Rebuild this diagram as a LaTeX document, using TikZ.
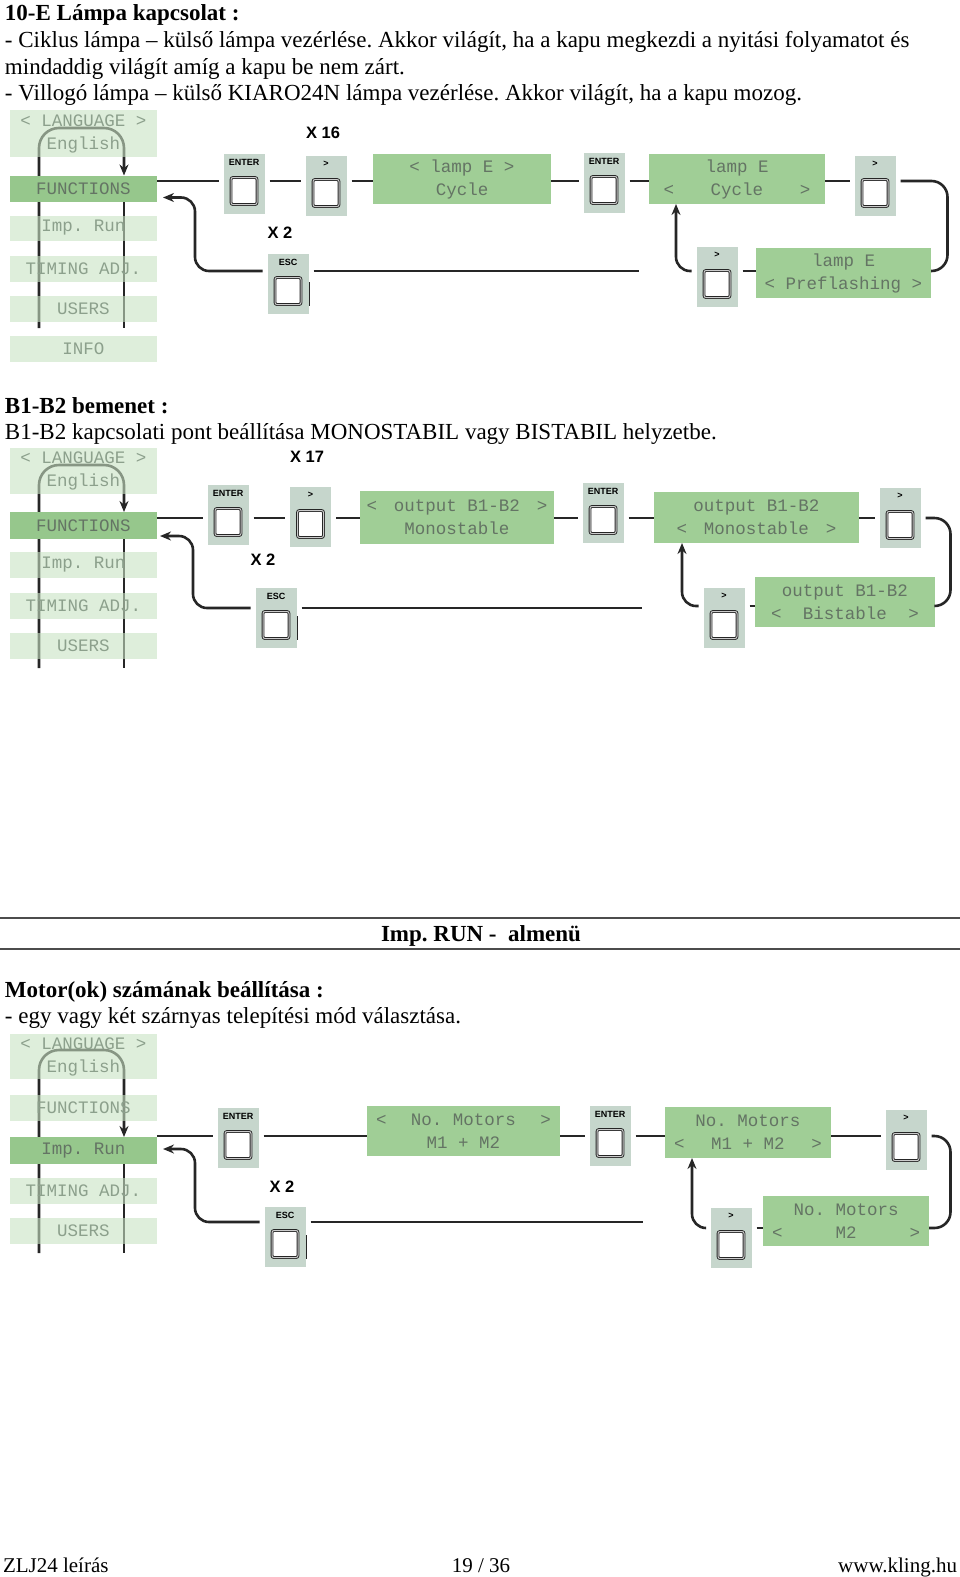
\documentclass[tikz,border=0pt]{standalone}
\usepackage{fontspec}
\setmainfont{Liberation Serif}
\newfontfamily\lcdfamily{Liberation Mono}
\newfontfamily\keyfamily{Liberation Sans}
\usepackage{tikz}
\usetikzlibrary{arrows.meta}
\definecolor{lcdgreen}{RGB}{160,206,150}
\definecolor{selgreen}{RGB}{150,199,140}
\definecolor{fadegreen}{RGB}{200,226,195}
\definecolor{keygrey}{RGB}{198,214,204}
\definecolor{lcdink}{RGB}{100,116,100}
\definecolor{fadeink}{RGB}{140,160,140}
\definecolor{wireink}{RGB}{38,38,38}
\pgfdeclarelayer{background}
\pgfsetlayers{background,main}
\frenchspacing
\newcommand{\lcdfont}{\lcdfamily\fontsize{17.5}{23}\selectfont}
\newcommand{\keyfont}{\keyfamily\bfseries\fontsize{9}{10}\selectfont}
\newcommand{\multfont}{\keyfamily\bfseries\fontsize{16.5}{18}\selectfont}
\newcommand{\bodyfont}{\fontsize{23}{27}\selectfont}
\newcommand{\footfont}{\fontsize{21}{25}\selectfont}
\newcommand{\lcdpick}[2]{\makebox[#1]{<\hfill#2\hfill>}}
\newcommand{\keypad}[3]{%
    \node[btn] (#1) at (#2) {};
    \node[keylabel] (#1-label) at ([yshift=22pt]#1.center) {#3};
    \node[keycap] (#1-cap) at ([yshift=-7pt]#1.center) {};
}
\tikzset{
    common/.style={rectangle, inner sep=0pt, outer sep=0pt},
    menu/.style={common, fill=fadegreen, fill opacity=0.6, text opacity=1, text=fadeink, font=\lcdfont, align=center, minimum width=147pt, minimum height=26pt},
    menusel/.style={menu, fill=selgreen, fill opacity=1, text=lcdink},
    lcd/.style={common, fill=lcdgreen, text=lcdink, font=\lcdfont, align=center, minimum height=50pt},
    btn/.style={common, fill=keygrey, minimum width=41pt, minimum height=60pt, outer sep=5pt},
    keycap/.style={common, draw=wireink, double=gray!40, double distance=1pt, line width=0.9pt, fill=white, rounded corners=2pt, minimum width=26pt, minimum height=27pt},
    keylabel/.style={common, font=\keyfont},
    mult/.style={common, font=\multfont},
    wire/.style={draw=wireink, line width=2.6pt},
    flow/.style={wire, -{Stealth[length=11pt,width=9pt]}},
    tick/.style={draw=wireink, line width=1.2pt},
    hrule/.style={draw=black!70, line width=1.4pt},
    txt/.style={common, anchor=base west, font=\bodyfont},
    heading/.style={txt, font=\bodyfont\bfseries},
    foot/.style={txt, font=\footfont}
}
\begin{document}
\begin{tikzpicture}[x=1pt,y=-1pt]
    \useasboundingbox (0,0) rectangle (960,1577);

    \node[heading] (headA) at (5,20.5) {10-E Lámpa kapcsolat :};
    \node[txt] (textA1) at (5,47.5) {- Ciklus lámpa – külső lámpa vezérlése. Akkor világít, ha a kapu megkezdi a nyitási folyamatot és};
    \node[txt] (textA2) at (5,74) {mindaddig világít amíg a kapu be nem zárt.};
    \node[txt] (textA3) at (5,100.5) {- Villogó lámpa – külső KIARO24N lámpa vezérlése. Akkor világít, ha a kapu mozog.};

    \node[menu, minimum height=47pt] (langA) at (83.5,133.5) {< LANGUAGE >\\English};
    \node[menusel] (fnA) at (83.5,188.5) {FUNCTIONS};
    \node[menu, minimum height=25pt] (impA) at (83.5,228) {Imp. Run};
    \node[menu] (timA) at (83.5,268.5) {TIMING ADJ.};
    \node[menu] (usrA) at (83.5,308.5) {USERS};
    \node[menu] (infA) at (83.5,348.5) {INFO};
    \coordinate (footA1) at (39,328);
    \coordinate (footA2) at (124,328);
    \coordinate (topA) at (0,128);

    \node[mult] (multA1) at (323,133) {X 16};
    \node[mult] (multA2) at (280,233) {X 2};
    \keypad{enterA1}{244,184}{ENTER}
    \keypad{gtA1}{326,186}{>}
    \keypad{escA}{288,284}{ESC}
    \keypad{enterA2}{604,183}{ENTER}
    \keypad{gtA3}{875,186}{>}
    \keypad{gtA4}{717,277}{>}
    \node[lcd, minimum width=178pt] (lcdA1) at (462,179) {< lamp E >\\Cycle};
    \node[lcd, minimum width=176pt] (lcdA2) at (737,179) {lamp E\\\lcdpick{147pt}{Cycle}};
    \node[lcd, minimum width=175pt] (lcdA3) at (843.5,273) {lamp E\\< Preflashing >};
    \coordinate (rowA) at (0,181);
    \coordinate (lowA) at (0,271);
    \coordinate (stopA) at (639,271);

    \begin{pgfonlayer}{background}
        \draw[flow, rounded corners=20pt] (footA1) -- (footA1 |- topA) -- (footA2 |- topA) -- (fnA.north -| footA2);
        \draw[wire] (fnA.south -| footA2) -- (footA2);
    \end{pgfonlayer}
    \draw[wire] (fnA.east |- rowA) -- (enterA1.west |- rowA)
        (enterA1.east |- rowA) -- (gtA1.west |- rowA)
        (gtA1.east |- rowA) -- (lcdA1.west |- rowA)
        (lcdA1.east |- rowA) -- (enterA2.west |- rowA)
        (enterA2.east |- rowA) -- (lcdA2.west |- rowA)
        (lcdA2.east |- rowA) -- (gtA3.west |- rowA);
    \draw[wire, rounded corners=16pt] (gtA3.east |- rowA) -- ++(47,0) |- (lcdA3.east |- lowA);
    \draw[wire] (gtA4.east |- lowA) -- (lcdA3.west |- lowA);
    \draw[flow, rounded corners=14pt] (gtA4.west |- lowA) -| ([xshift=27pt]lcdA2.south west);
    \draw[wire] (escA.east |- stopA) -- (stopA);
    \draw[flow, rounded corners=14pt] (escA.west |- stopA) -| ([shift={(38pt,4pt)}]fnA.south east) -- ([shift={(6pt,4pt)}]fnA.south east);
    \draw[tick] ([shift={(-4pt,2pt)}]escA.east) -- ([shift={(-4pt,-22pt)}]escA.east);

    \node[heading] (headB) at (5,413) {B1-B2 bemenet :};
    \node[txt] (textB1) at (5,439) {B1-B2 kapcsolati pont beállítása MONOSTABIL vagy BISTABIL helyzetbe.};

    \node[menu, minimum height=46pt] (langB) at (83.5,471) {< LANGUAGE >\\English};
    \node[menusel, minimum height=27pt] (fnB) at (83.5,525.5) {FUNCTIONS};
    \node[menu] (impB) at (83.5,565) {Imp. Run};
    \node[menu] (timB) at (83.5,606) {TIMING ADJ.};
    \node[menu] (usrB) at (83.5,646) {USERS};
    \coordinate (footB1) at (39,668);
    \coordinate (footB2) at (124,668);
    \coordinate (topB) at (0,465);

    \node[mult] (multB1) at (307,457) {X 17};
    \node[mult] (multB2) at (263,560) {X 2};
    \keypad{enterB1}{228,515}{ENTER}
    \keypad{gtB1}{310.5,517}{>}
    \keypad{escB}{276,618}{ESC}
    \keypad{enterB2}{603,513}{ENTER}
    \keypad{gtB3}{900,518}{>}
    \keypad{gtB4}{724,618}{>}
    \node[lcd, minimum width=194pt, minimum height=53pt] (lcdB1) at (457,517.5) {\lcdpick{181pt}{output B1-B2}\\Monostable};
    \node[lcd, minimum width=205pt, minimum height=51pt] (lcdB2) at (756.5,517.5) {output B1-B2\\\lcdpick{160pt}{Monostable}};
    \node[lcd, minimum width=180pt] (lcdB3) at (845,602) {output B1-B2\\\lcdpick{148pt}{Bistable}};
    \coordinate (rowB) at (0,518);
    \coordinate (lowB) at (0,606);
    \coordinate (stopB) at (642,608);

    \begin{pgfonlayer}{background}
        \draw[flow, rounded corners=20pt] (footB1) -- (footB1 |- topB) -- (footB2 |- topB) -- (fnB.north -| footB2);
        \draw[wire] (fnB.south -| footB2) -- (footB2);
    \end{pgfonlayer}
    \draw[wire] (fnB.east |- rowB) -- (enterB1.west |- rowB)
        (enterB1.east |- rowB) -- (gtB1.west |- rowB)
        (gtB1.east |- rowB) -- (lcdB1.west |- rowB)
        (lcdB1.east |- rowB) -- (enterB2.west |- rowB)
        (enterB2.east |- rowB) -- (lcdB2.west |- rowB)
        (lcdB2.east |- rowB) -- (gtB3.west |- rowB);
    \draw[wire, rounded corners=16pt] (gtB3.east |- rowB) -- ++(25,0) |- (lcdB3.east |- lowB);
    \draw[wire] (gtB4.east |- lowB) -- (lcdB3.west |- lowB);
    \draw[flow, rounded corners=14pt] (gtB4.west |- lowB) -| ([xshift=28pt]lcdB2.south west);
    \draw[wire] (escB.east |- stopB) -- (stopB);
    \draw[flow, rounded corners=14pt] (escB.west |- stopB) -| ([shift={(36pt,3pt)}]fnB.south east) -- ([shift={(3pt,3pt)}]fnB.south east);
    \draw[tick] ([shift={(-4pt,2pt)}]escB.east) -- ([shift={(-4pt,-22pt)}]escB.east);

    \draw[hrule] (0,918) -- (960,918);
    \draw[hrule] (0,949) -- (960,949);
    \node[heading, anchor=base] (headC0) at (481,941) {Imp. RUN -\ \ almenü};
    \node[heading] (headC) at (5,997) {Motor(ok) számának beállítása :};
    \node[txt] (textC1) at (5,1023) {- egy vagy két szárnyas telepítési mód választása.};

    \node[menu, minimum height=45pt] (langC) at (83.5,1056.5) {< LANGUAGE >\\English};
    \node[menu] (fnC) at (83.5,1108) {FUNCTIONS};
    \node[menusel, minimum height=27pt] (impC) at (83.5,1150.5) {Imp. Run};
    \node[menu] (timC) at (83.5,1190.5) {TIMING ADJ.};
    \node[menu] (usrC) at (83.5,1231) {USERS};
    \coordinate (footC1) at (39,1253);
    \coordinate (footC2) at (124,1253);
    \coordinate (topC) at (0,1050);

    \node[mult] (multC2) at (282,1187) {X 2};
    \keypad{enterC1}{238,1138}{ENTER}
    \keypad{escC}{285,1237}{ESC}
    \keypad{enterC2}{610,1136}{ENTER}
    \keypad{gtC3}{906,1140}{>}
    \keypad{gtC4}{731,1238}{>}
    \node[lcd, minimum width=193pt] (lcdC1) at (463.5,1131) {\lcdpick{175pt}{No. Motors}\\M1 + M2};
    \node[lcd, minimum width=166pt, minimum height=51pt] (lcdC2) at (748,1132.5) {No. Motors\\\lcdpick{148pt}{M1 + M2}};
    \node[lcd, minimum width=166pt] (lcdC3) at (846,1221) {No. Motors\\\lcdpick{148pt}{M2}};
    \coordinate (rowC) at (0,1136);
    \coordinate (lowC) at (0,1228);
    \coordinate (stopC) at (643,1222);

    \begin{pgfonlayer}{background}
        \draw[flow, rounded corners=20pt] (footC1) -- (footC1 |- topC) -- (footC2 |- topC) -- (impC.north -| footC2);
        \draw[wire] (impC.south -| footC2) -- (footC2);
    \end{pgfonlayer}
    \draw[wire] (impC.east |- rowC) -- (enterC1.west |- rowC)
        (enterC1.east |- rowC) -- (lcdC1.west |- rowC)
        (lcdC1.east |- rowC) -- (enterC2.west |- rowC)
        (enterC2.east |- rowC) -- (lcdC2.west |- rowC)
        (lcdC2.east |- rowC) -- (gtC3.west |- rowC);
    \draw[wire, rounded corners=16pt] (gtC3.east |- rowC) -- ++(19,0) |- (lcdC3.east |- lowC);
    \draw[wire] (gtC4.east |- lowC) -- (lcdC3.west |- lowC);
    \draw[flow, rounded corners=14pt] (gtC4.west |- lowC) -| ([xshift=27pt]lcdC2.south west);
    \draw[wire] (escC.east |- stopC) -- (stopC);
    \draw[flow, rounded corners=14pt] (escC.west |- stopC) -| ([shift={(38pt,15pt)}]impC.south east) -- ([shift={(6pt,15pt)}]impC.south east);
    \draw[tick] ([shift={(-4pt,2pt)}]escC.east) -- ([shift={(-4pt,-22pt)}]escC.east);

    \node[foot] (footL) at (3,1572) {ZLJ24 leírás};
    \node[foot, anchor=base] (footM) at (481,1572) {19 / 36};
    \node[foot, anchor=base east] (footR) at (957,1572) {www.kling.hu};
\end{tikzpicture}
\end{document}
